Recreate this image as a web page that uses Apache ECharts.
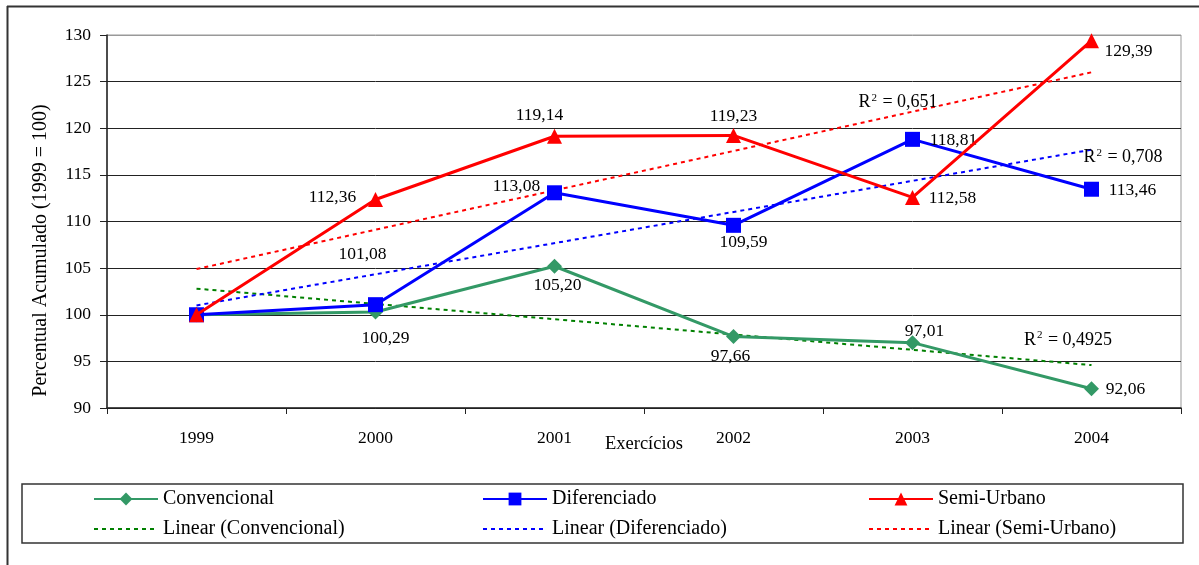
<!DOCTYPE html>
<html>
<head>
<meta charset="utf-8">
<script src="https://cdn.jsdelivr.net/npm/echarts@6/dist/echarts.min.js"></script>
<style>
html,body{margin:0;padding:0;background:#fff;}
#chart{width:1199px;height:565px;}
</style>
</head>
<body>
<div id="chart"></div>
<script>
// ---- data ----
const categories = ['1999', '2000', '2001', '2002', '2003', '2004'];
const convencional = [100, 100.29, 105.20, 97.66, 97.01, 92.06];
const diferenciado = [100, 101.08, 113.08, 109.59, 118.81, 113.46];
const semiUrbano = [100, 112.36, 119.14, 119.23, 112.58, 129.39];
const trendConvencional = [102.8, null, null, null, null, 94.6];
const trendDiferenciado = [101.0, null, null, null, null, 117.7];
const trendSemiUrbano = [104.9, null, null, null, null, 126.0];
const r2Convencional = '0,4925';
const r2Diferenciado = '0,708';
const r2SemiUrbano = '0,651';
const seriesNames = ['Convencional', 'Diferenciado', 'Semi-Urbano'];
const trendNames = ['Linear (Convencional)', 'Linear (Diferenciado)', 'Linear (Semi-Urbano)'];
const axisTitleY = 'Percentual Acumulado (1999 = 100)';
const axisTitleX = 'Exercícios';

// ---- style config ----
const FONT = '"Liberation Serif", "Times New Roman", serif';
const labelOffsets = {
  conv: [null, [10, 26], [3, 19], [-3, 20], [12, -11], [34, 1]],
  dif: [null, [-13, -50], [-38, -6], [10, 17], [41, 1], [41, 1]],
  semi: [null, [-43, -2], [-15, -21], [0, -19], [40, 1], [37, 11]]
};

function fmt(v) { return v.toFixed(2).replace('.', ','); }

function buildData(values, offsets) {
  return values.map((v, i) => {
    const off = offsets[i];
    if (!off) return { value: v, label: { show: false } };
    return {
      value: v,
      label: {
        show: true, position: 'inside', offset: off,
        formatter: () => fmt(v),
        color: '#000', fontFamily: FONT, fontSize: 17.5
      }
    };
  });
}

function r2Point(cat, val, off, txt) {
  return {
    coord: [cat, val],
    symbol: 'circle', symbolSize: 0,
    itemStyle: { opacity: 1 },
    label: {
      show: true, position: 'inside', offset: off,
      formatter: '{r|R}{s|2}{r| = ' + txt + '}',
      rich: {
        r: { fontFamily: FONT, fontSize: 18, color: '#000', lineHeight: 20 },
        s: { fontFamily: FONT, fontSize: 11, color: '#000', verticalAlign: 'top', lineHeight: 11, padding: [0, 1, 8, 1] }
      }
    }
  };
}

const chart = echarts.init(document.getElementById('chart'), null, { renderer: 'canvas' });

const mainLine = (name, data, color, symbol, z) => ({
  name, type: 'line', data, z,
  symbol, symbolSize: 15, showSymbol: true,
  lineStyle: { color, width: 3 },
  itemStyle: { color },
  emphasis: { disabled: true },
  animation: false
});

const trendLine = (name, data, color, mp) => ({
  name, type: 'line', data, z: 1,
  connectNulls: true, symbol: 'none',
  lineStyle: { color, width: 2, type: [4, 4] },
  itemStyle: { color, opacity: 0 },
  emphasis: { disabled: true },
  markPoint: { data: [mp], animation: false, silent: true },
  animation: false
});

const legendCommon = {
  orient: 'vertical', top: 484,
  itemWidth: 64, itemHeight: 16, itemGap: 10,
  textStyle: { fontFamily: FONT, fontSize: 20, color: '#000' },
  selectedMode: false
};

const option = {
  backgroundColor: '#fff',
  animation: false,
  grid: {
    left: 107, right: 18, top: 35, bottom: 157,
    show: true, borderColor: '#999', borderWidth: 1, backgroundColor: 'transparent'
  },
  xAxis: {
    type: 'category', data: categories, boundaryGap: true,
    name: axisTitleX, nameLocation: 'middle', nameGap: 27, nameMoveOverlap: false,
    nameTextStyle: { fontFamily: FONT, fontSize: 18.5, color: '#000' },
    axisLine: { lineStyle: { color: '#222', width: 1.5 } },
    axisTick: { show: true, length: 6, lineStyle: { color: '#222' } },
    axisLabel: { fontFamily: FONT, fontSize: 17.5, color: '#000', margin: 21 },
    splitLine: { show: false }
  },
  yAxis: {
    type: 'value', min: 90, max: 130, interval: 5,
    name: axisTitleY, nameLocation: 'middle', nameGap: 56,
    nameTextStyle: { fontFamily: FONT, fontSize: 20, color: '#000', padding: [0, 58, 0, 0] },
    axisLine: { show: true, lineStyle: { color: '#222', width: 1.5 } },
    axisTick: { show: true, length: 7, lineStyle: { color: '#222' } },
    axisLabel: { fontFamily: FONT, fontSize: 17.5, color: '#000', margin: 16 },
    splitLine: { show: true, lineStyle: { color: ['#222', '#222', '#222', '#222', '#222', '#222', '#222', '#222', '#999'], width: 1 } }
  },
  legend: [
    Object.assign({ left: 88, data: [seriesNames[0], trendNames[0]] }, legendCommon),
    Object.assign({ left: 477, data: [seriesNames[1], trendNames[1]] }, legendCommon),
    Object.assign({ left: 863, data: [seriesNames[2], trendNames[2]] }, legendCommon)
  ],
  graphic: [
    { type: 'line', shape: { x1: 7.5, y1: 6, x2: 7.5, y2: 565 }, style: { stroke: '#333', lineWidth: 2 }, silent: true },
    { type: 'line', shape: { x1: 7, y1: 6.5, x2: 1199, y2: 6.5 }, style: { stroke: '#333', lineWidth: 2 }, silent: true },
    { type: 'rect', shape: { x: 22, y: 484, width: 1161, height: 59 }, style: { fill: 'none', stroke: '#333', lineWidth: 1.5 }, silent: true, z: -1 }
  ],
  series: [
    trendLine(trendNames[0], trendConvencional, '#008000', r2Point('2004', 97.3, [-23.5, 0], r2Convencional)),
    trendLine(trendNames[1], trendDiferenciado, '#0000FF', r2Point('2004', 116.9, [31.5, 0], r2Diferenciado)),
    trendLine(trendNames[2], trendSemiUrbano, '#FF0000', r2Point('2003', 122.8, [-14.5, 0], r2SemiUrbano)),
    mainLine(seriesNames[0], buildData(convencional, labelOffsets.conv), '#339966', 'diamond', 3),
    mainLine(seriesNames[1], buildData(diferenciado, labelOffsets.dif), '#0000FF', 'rect', 4),
    mainLine(seriesNames[2], buildData(semiUrbano, labelOffsets.semi), '#FF0000', 'triangle', 5)
  ]
};

chart.setOption(option);
</script>
</body>
</html>
